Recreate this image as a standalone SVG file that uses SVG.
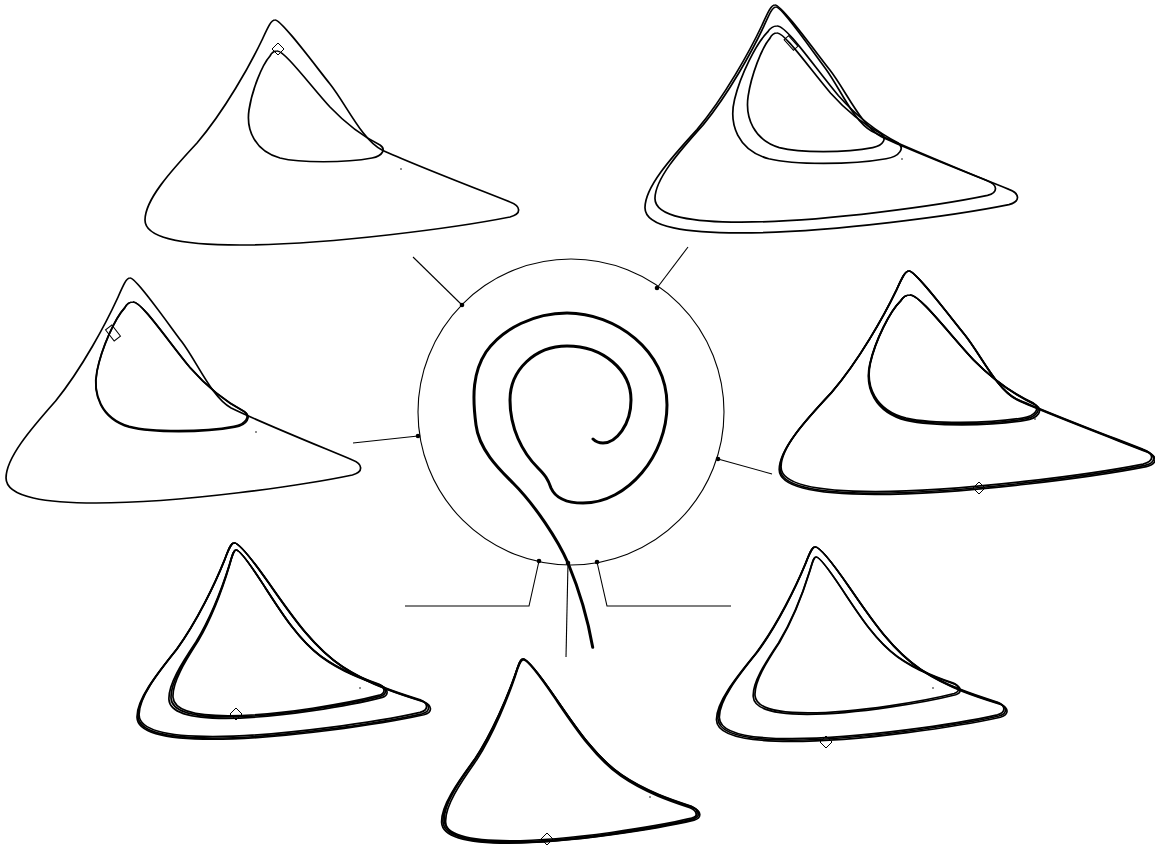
<svg xmlns="http://www.w3.org/2000/svg" xmlns:xlink="http://www.w3.org/1999/xlink" width="1155" height="845" viewBox="0 0 1155 845">
<style>
.loop{fill:none;stroke:#000;stroke-width:1.7;stroke-linejoin:round;vector-effect:non-scaling-stroke}
.band{stroke-width:1}
.conn{fill:none;stroke:#000;stroke-width:1.1}
.mk{fill:none;stroke:#000;stroke-width:1}
.fp{fill:#000}
</style>
<defs>
<path id="o" class="loop" vector-effect="non-scaling-stroke" d="M275,20 C281,19 317,68 330,84 C346,104 362,140 382,150 C412,164 480,190 510,202 C521,206 522,214 510,217 C460,227 330,245 240,245 C190,245 145,240 145,220 C145,200 170,172 197,143 C225,110 250,65 262,40 C268,27 271,20 275,20 Z"/>
<path id="s" class="loop" vector-effect="non-scaling-stroke" d="M275,20 C281,19 300,42 318,66 C345,102 372,140 410,163 C445,184 485,195 510,202 C521,206 522,214 510,217 C460,227 330,245 240,245 C190,245 145,240 145,220 C145,200 170,172 197,143 C225,110 250,65 262,40 C268,27 271,20 275,20 Z"/>
<path id="i" class="loop" vector-effect="non-scaling-stroke" d="M277,51 C284,50 310,85 330,107 C350,128 370,140 380,145 C386,149 383,156 372,158 C345,163 300,163 280,158 C255,151 246,130 249,110 C252,90 262,65 270,56 C272,52 274,51 277,51 Z"/>
<path id="dm" d="M0,-6 L6,0 L0,6 L-6,0 Z"/>
</defs>
<rect width="1155" height="845" fill="#fff"/>

<g id="connectors">
<path class="conn" d="M462,305 L413,257"/>
<path class="conn" d="M657,288 L688,247"/>
<path class="conn" d="M418,436 L353,443"/>
<path class="conn" d="M718,459 L772,474"/>
<path class="conn" d="M539,561 L529,606 L405,606"/>
<path class="conn" d="M597,562 L607,606 L731,606"/>
<path class="conn" d="M568,563 L566,657"/>
<g class="fp">
<circle cx="462" cy="305" r="2.3"/>
<circle cx="657" cy="288" r="2.3"/>
<circle cx="418" cy="436" r="2.3"/>
<circle cx="718" cy="459" r="2.3"/>
<circle cx="539" cy="561" r="2.3"/>
<circle cx="597" cy="562" r="2.3"/>
<circle cx="568" cy="563" r="2.3"/>
</g>
</g>

<g id="center">
<circle cx="571" cy="412" r="153" fill="none" stroke="#000" stroke-width="1.1"/>
<path fill="none" stroke="#000" stroke-width="3" stroke-linecap="round" d="M592.7,647.3 C588,620 580,592 568,563 C558,540 535,505 513,483 C500,470 479,450 476,425 C472,395 473,372 486,352 C503,328 535,313 567,313 C615,313 667,350 667,405 C667,455 628,503 583,503 C565,503 555,497 551,488 C548,479 545,475 538,468 C522,452 510,428 510,400 C510,370 535,346 567,346 C603,346 631,370 631,400 C631,425 616,443 603,443 C598,443 595,441 593,439"/>
</g>

<g id="panel-top-left">
<use href="#o"/>
<use href="#i"/>
<use href="#dm" class="mk" x="278" y="49"/>
<circle class="fp" cx="401" cy="169" r="0.8"/>
</g>

<g id="panel-top-right">
<use href="#o" transform="translate(775,5) matrix(0.997,0,-0.002,1.013,0,0) translate(-275,-20)"/>
<use href="#o" transform="translate(776,7) matrix(0.911,0,-0.013,0.956,0,0) translate(-275,-20)"/>
<use href="#i" transform="translate(777,26) matrix(1.276,0,-0.113,1.241,0,0) translate(-277,-51)"/>
<use href="#i" transform="translate(777,33) matrix(1.016,0,-0.007,1.071,0,0) translate(-277,-51)"/>
<rect class="mk" x="-3" y="-7" width="6" height="14" transform="translate(791,43) rotate(-42)"/>
<circle class="fp" cx="902" cy="159" r="0.8"/>
</g>

<g id="panel-mid-left">
<use href="#o" transform="translate(130,278) matrix(0.949,0,-0.003,1,0,0) translate(-275,-20)"/>
<use href="#i" transform="translate(133,302) matrix(1.147,0,-0.067,1.170,0,0) translate(-277,-51)"/>
<use href="#i" class="band" transform="translate(133,302) matrix(1.138,0,-0.067,1.162,0,0) translate(-277,-51)"/>
<rect class="mk" x="-4" y="-7" width="8" height="14" transform="translate(113,333) rotate(-38)"/>
<circle class="fp" cx="256" cy="432" r="0.8"/>
</g>

<g id="panel-mid-right">
<use href="#o" transform="translate(909,271) matrix(1.000,0,0.005,0.987,0,0) translate(-275,-20)"/>
<use href="#o" class="band" transform="translate(909,271) matrix(0.992,0,0.005,0.980,0,0) translate(-275,-20)"/>
<use href="#o" class="band" transform="translate(909,271) matrix(1.006,0,0.005,0.993,0,0) translate(-275,-20)"/>
<use href="#i" transform="translate(910,295) matrix(1.275,0,-0.071,1.161,0,0) translate(-277,-51)"/>
<use href="#i" class="band" transform="translate(910,295) matrix(1.262,0,-0.071,1.150,0,0) translate(-277,-51)"/>
<use href="#i" class="band" transform="translate(910,295) matrix(1.288,0,-0.071,1.172,0,0) translate(-277,-51)"/>
<use href="#dm" class="mk" x="979" y="488"/>
<circle class="fp" cx="1035" cy="419" r="0.8"/>
</g>

<g id="panel-bottom-left">
<use href="#s" transform="translate(234,543) matrix(0.778,0,0.026,0.867,0,0) translate(-275,-20)"/>
<use href="#s" class="band" transform="translate(234,543) matrix(0.770,0,0.026,0.860,0,0) translate(-275,-20)"/>
<use href="#s" class="band" transform="translate(234,543) matrix(0.786,0,0.026,0.872,0,0) translate(-275,-20)"/>
<use href="#s" transform="translate(236,550) matrix(0.575,0,0.049,0.742,0,0) translate(-275,-20)"/>
<use href="#s" class="band" transform="translate(236,550) matrix(0.585,0,0.045,0.748,0,0) translate(-275,-20)"/>
<use href="#s" class="band" transform="translate(236,550) matrix(0.566,0,0.053,0.737,0,0) translate(-275,-20)"/>
<use href="#dm" class="mk" x="236" y="714"/>
<circle class="fp" cx="360" cy="688" r="0.8"/>
</g>

<g id="panel-bottom-center">
<use href="#s" transform="translate(523,659) matrix(0.685,0,0.045,0.813,0,0) translate(-275,-20)"/>
<use href="#s" class="band" transform="translate(523,659) matrix(0.678,0,0.047,0.808,0,0) translate(-275,-20)"/>
<use href="#s" class="band" transform="translate(523,659) matrix(0.692,0,0.043,0.818,0,0) translate(-275,-20)"/>
<use href="#s" class="band" transform="translate(523,660) matrix(0.672,0,0.050,0.812,0,0) translate(-275,-20)"/>
<use href="#dm" class="mk" x="547" y="839"/>
<circle class="fp" cx="650" cy="797" r="0.8"/>
</g>

<g id="panel-bottom-right">
<use href="#s" transform="translate(815,547) matrix(0.770,0,0.015,0.858,0,0) translate(-275,-20)"/>
<use href="#s" class="band" transform="translate(815,547) matrix(0.762,0,0.017,0.852,0,0) translate(-275,-20)"/>
<use href="#s" class="band" transform="translate(815,547) matrix(0.778,0,0.013,0.864,0,0) translate(-275,-20)"/>
<use href="#s" transform="translate(816,557) matrix(0.546,0,0.050,0.693,0,0) translate(-275,-20)"/>
<use href="#s" class="band" transform="translate(816,557) matrix(0.555,0,0.047,0.699,0,0) translate(-275,-20)"/>
<use href="#dm" class="mk" x="826" y="742"/>
<circle class="fp" cx="933" cy="688" r="0.8"/>
</g>
</svg>
